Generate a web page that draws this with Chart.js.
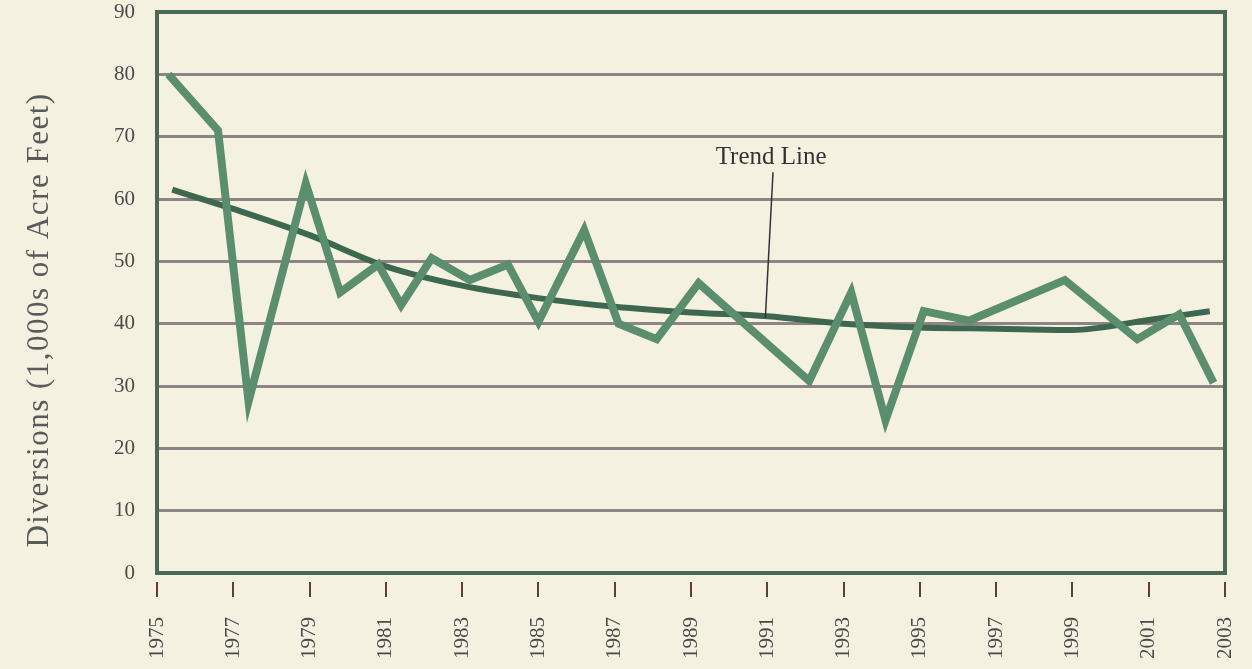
<!DOCTYPE html>
<html>
<head>
<meta charset="utf-8">
<script src="https://cdn.jsdelivr.net/npm/chart.js@4/dist/chart.umd.min.js"></script>
<style>
  html, body { margin: 0; padding: 0; background: #f4f1e1; }
  #wrap { width: 1252px; height: 669px; }
</style>
</head>
<body>
<div id="wrap"><canvas id="chart" width="1252" height="669"></canvas></div>
<script>
// diversions (years are where the vertices sit)
const diversionYears = [1975.3, 1976.6, 1977.4, 1978.9, 1979.8, 1980.8, 1981.4, 1982.2, 1983.2, 1984.2,
  1985.0, 1986.2, 1987.1, 1988.1, 1989.2, 1992.1, 1993.2, 1994.1, 1995.1, 1996.3,
  1998.8, 2000.7, 2001.8, 2002.7];
const diversions = [80, 71, 27.5, 62.5, 45, 49.5, 43, 50.5, 47, 49.5,
  40.3, 55, 40, 37.5, 46.5, 30.8, 45, 24.5, 42, 40.5,
  47, 37.5, 41.5, 30.5];

// trend line
const trendYears = [1975.4, 1977, 1979, 1981, 1983, 1985, 1987, 1989, 1991, 1993, 1995, 1997, 1999, 2001, 2002.6];
const trendValues = [61.5, 58.4, 54.2, 49.2, 46.1, 44.1, 42.7, 41.8, 41.2, 40, 39.4, 39.2, 39.0, 40.6, 42];

const yTicks = [0, 10, 20, 30, 40, 50, 60, 70, 80, 90];
const xTickYears = [1975, 1977, 1979, 1981, 1983, 1985, 1987, 1989, 1991, 1993, 1995, 1997, 1999, 2001, 2003];

const yTitle = "Diversions (1,000s of Acre Feet)";
const trendLabel = { text: "Trend Line", year: 1991.1, value: 66.7 };
const trendPointer = { from: [1991.15, 64.3], to: [1990.95, 41.0] };

const serif = "'Liberation Serif', 'Times New Roman', serif";

const frame = {
  id: "frame",
  beforeDatasetsDraw(chart) {
    const { ctx, chartArea: a } = chart;
    ctx.save();
    ctx.strokeStyle = "#4b6a55";
    ctx.lineWidth = 4;
    ctx.strokeRect(a.left, a.top, a.right - a.left, a.bottom - a.top);
    ctx.restore();
  },
  afterDraw(chart) {
    const { ctx, chartArea: a } = chart;
    const x = chart.scales.x, y = chart.scales.y;
    ctx.save();
    // x tick marks sit below the frame with a little gap
    ctx.strokeStyle = "#5e3e3c";
    ctx.lineWidth = 2;
    xTickYears.forEach(yr => {
      const px = Math.round(x.getPixelForValue(yr));
      ctx.beginPath();
      ctx.moveTo(px, a.bottom + 9);
      ctx.lineTo(px, a.bottom + 24);
      ctx.stroke();
    });
    // y axis title, a bit spaced out like the print
    ctx.save();
    ctx.translate(40, 320);
    ctx.rotate(-Math.PI / 2);
    ctx.fillStyle = "#5a5a5a";
    ctx.font = "31px " + serif;
    ctx.letterSpacing = "1.5px";
    ctx.textAlign = "center";
    ctx.textBaseline = "middle";
    ctx.fillText(yTitle, 0, 0);
    ctx.restore();
    // trend line callout
    ctx.fillStyle = "#333333";
    ctx.font = "25px " + serif;
    ctx.textAlign = "center";
    ctx.textBaseline = "middle";
    ctx.fillText(trendLabel.text, x.getPixelForValue(trendLabel.year), y.getPixelForValue(trendLabel.value));
    ctx.strokeStyle = "#333333";
    ctx.lineWidth = 1.5;
    ctx.beginPath();
    ctx.moveTo(x.getPixelForValue(trendPointer.from[0]), y.getPixelForValue(trendPointer.from[1]));
    ctx.lineTo(x.getPixelForValue(trendPointer.to[0]), y.getPixelForValue(trendPointer.to[1]));
    ctx.stroke();
    ctx.restore();
  }
};

new Chart(document.getElementById("chart"), {
  type: "line",
  data: {
    datasets: [
      {
        label: "Diversions",
        data: diversionYears.map((yr, i) => ({ x: yr, y: diversions[i] })),
        borderColor: "#5b8e6d",
        borderWidth: 8,
        pointRadius: 0,
        tension: 0
      },
      {
        label: "Trend Line",
        data: trendYears.map((yr, i) => ({ x: yr, y: trendValues[i] })),
        borderColor: "#3e6750",
        borderWidth: 6,
        pointRadius: 0,
        cubicInterpolationMode: "monotone"
      }
    ]
  },
  options: {
    responsive: false,
    animation: false,
    devicePixelRatio: 1,
    layout: { padding: { left: 0, right: 27, top: 12, bottom: 0 } },
    plugins: { legend: { display: false }, tooltip: { enabled: false } },
    scales: {
      x: {
        type: "linear",
        min: 1975,
        max: 2003,
        afterFit: s => { s.height = 96; s.paddingLeft = 0; s.paddingRight = 0; },
        afterBuildTicks: s => { s.ticks = xTickYears.map(v => ({ value: v })); },
        grid: { display: false },
        border: { display: false },
        ticks: {
          minRotation: 90,
          maxRotation: 90,
          autoSkip: false,
          padding: 36,
          color: "#4a4a4a",
          font: { family: serif, size: 21 },
          callback: v => String(v)
        }
      },
      y: {
        min: 0,
        max: 90,
        afterFit: s => { s.width = 157; s.paddingTop = 0; s.paddingBottom = 0; },
        afterBuildTicks: s => { s.ticks = yTicks.map(v => ({ value: v })); },
        grid: { color: "#8e8483", lineWidth: 3, drawTicks: false },
        border: { display: false },
        ticks: {
          padding: 22,
          color: "#4a4a4a",
          font: { family: serif, size: 21 }
        }
      }
    }
  },
  plugins: [frame]
});
</script>
</body>
</html>
